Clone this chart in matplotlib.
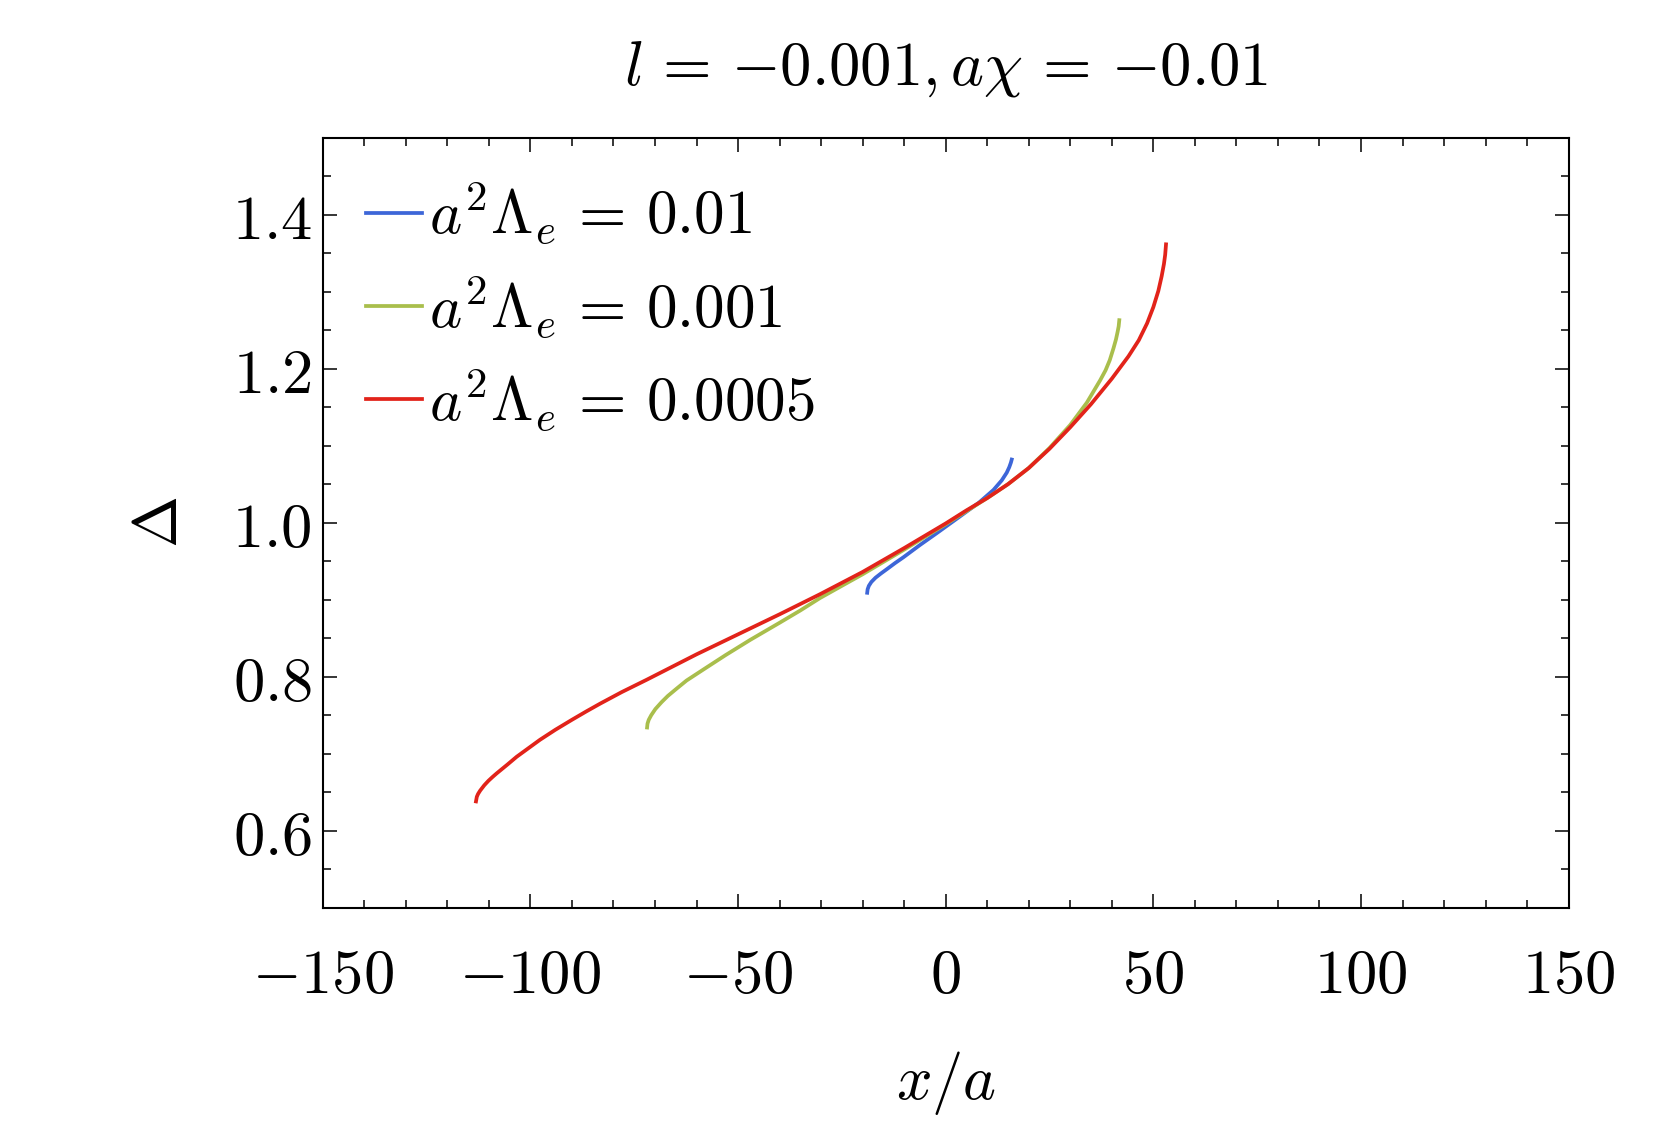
import matplotlib
matplotlib.use("Agg")
import matplotlib.pyplot as plt
from matplotlib.ticker import MultipleLocator

plt.rcParams['mathtext.fontset'] = 'cm'
plt.rcParams['font.family'] = 'serif'
plt.rcParams['font.serif'] = ['DejaVu Serif']

# Data
blue_x = [-18.9, -18.8, -18.5, -17.9, -16.9, -15.6, -14.2, -12.2, -10.2, -6.2, -2.0, 3.4, 8.0, 11.5,
          13.5, 14.7, 15.3, 15.7, 15.9]
blue_y = [0.909, 0.9135, 0.918, 0.923, 0.9285, 0.934, 0.9395, 0.9475, 0.955, 0.971, 0.987, 1.008,
          1.026, 1.0425, 1.055, 1.065, 1.072, 1.078, 1.082]

green_x = [-71.9, -71.8, -71.5, -70.9, -69.9, -68.4, -66.9, -64.9, -62.4, -58.0, -53.0, -47.0, -40.0,
           -35.0, -30.3, -25.0, -20.0, -10.0, 0.0, 5.0, 10.0, 15.0, 20.0, 25.0, 30.0, 34.0, 37.2,
           38.5, 39.5, 40.4, 41.0, 41.4, 41.65, 41.8]
green_y = [0.734, 0.739, 0.744, 0.750, 0.758, 0.767, 0.775, 0.784, 0.795, 0.8105, 0.828, 0.848, 0.870,
           0.886, 0.902, 0.918, 0.933, 0.965, 0.998, 1.015, 1.032, 1.050, 1.071, 1.097, 1.127, 1.156,
           1.185, 1.198, 1.211, 1.2265, 1.238, 1.248, 1.255, 1.263]

red_x = [-113.1, -112.9, -112.6, -112.1, -111.1, -110.1, -109.1, -108.1, -105.5, -103.3, -100.5,
         -97.7, -94.0, -90.0, -86.5, -83.2, -78.0, -72.0, -60.0, -50.0, -40.0, -30.3, -20.0, -10.0,
         0.0, 5.0, 10.0, 15.0, 20.0, 25.0, 30.0, 35.0, 40.0, 44.0, 46.5, 48.5, 50.0, 51.2, 52.0,
         52.55, 52.85, 53.05]
red_y = [0.638, 0.644, 0.6477, 0.652, 0.659, 0.6648, 0.6698, 0.6745, 0.686, 0.696, 0.707,
         0.718, 0.731, 0.744, 0.755, 0.765, 0.780, 0.796, 0.829, 0.855, 0.881, 0.907, 0.936, 0.967,
         0.999, 1.016, 1.032, 1.050, 1.071, 1.096, 1.124, 1.154, 1.187, 1.216, 1.237, 1.259, 1.280,
         1.301, 1.320, 1.336, 1.348, 1.3615]

labels = [r'$a^2\Lambda_e \,=\, 0.01$', r'$a^2\Lambda_e \,=\, 0.001$', r'$a^2\Lambda_e \,=\, 0.0005$']
colors = ['#3D66D8', '#A9BE4C', '#E2231A']

fig = plt.figure(figsize=(16.61, 11.39), dpi=100)
ax = fig.add_axes([0.1943, 0.2031, 0.9444 - 0.1943, 0.8791 - 0.2031])

ax.plot(blue_x, blue_y, color=colors[0], lw=2.7, label=labels[0], solid_joinstyle='round')
ax.plot(green_x, green_y, color=colors[1], lw=2.7, label=labels[1], solid_joinstyle='round')
ax.plot(red_x, red_y, color=colors[2], lw=2.7, label=labels[2], solid_joinstyle='round')

ax.set_xlim(-150, 150)
ax.set_ylim(0.5, 1.5)
ax.xaxis.set_minor_locator(MultipleLocator(10))
ax.yaxis.set_minor_locator(MultipleLocator(0.05))

ax.set_xticks([-150, -100, -50, 0, 50, 100, 150])
ax.set_xticklabels([r'$-150$', r'$-100$', r'$-50$', r'$0$', r'$50$', r'$100$', r'$150$'])
ax.set_yticks([0.6, 0.8, 1.0, 1.2, 1.4])
ax.set_yticklabels([r'$0.6$', r'$0.8$', r'$1.0$', r'$1.2$', r'$1.4$'])

ax.tick_params(which='both', direction='in', top=True, right=True, labelsize=45)
ax.tick_params(which='major', length=10, width=1.1)
ax.tick_params(axis='x', which='major', pad=27)
ax.tick_params(axis='y', which='major', pad=8)
ax.tick_params(which='minor', length=6, width=1.1)
for s in ax.spines.values():
    s.set_linewidth(1.5)

ax.set_title(r'$l \,=\, {-}0.001, a\chi \,=\, {-}0.01$', fontsize=45, pad=38)
ax.set_xlabel(r'$x/a$', fontsize=45, labelpad=31)
ax.set_ylabel(r'$\Delta$', fontsize=45, labelpad=30)

ax.legend(loc='upper left', frameon=False, fontsize=44, handlelength=0.92,
          handletextpad=0.12, labelspacing=0.44, borderaxespad=0.4, borderpad=0.3)

fig.savefig('out.png', dpi=100)
